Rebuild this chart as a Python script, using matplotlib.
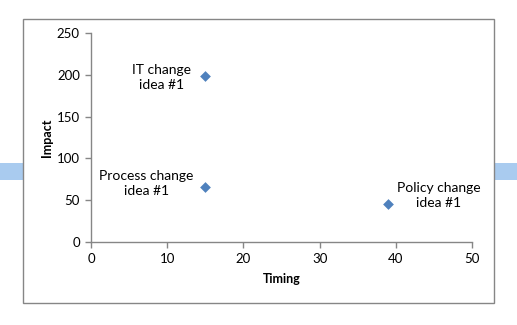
import matplotlib
matplotlib.use('Agg')
import matplotlib.pyplot as plt
import matplotlib.patches as mpatches

plt.rcParams['font.family'] = ['Lato', 'DejaVu Sans']

# data
ideas = ['IT change\nidea #1', 'Process change\nidea #1', 'Policy change\nidea #1']
timing = [15, 15, 39]
impact = [198, 66, 46]

# label offsets (points) relative to each marker
label_offsets = [(-31.5, -1), (-42.5, 2.5), (36.5, 6)]

W, H = 517, 325
fig = plt.figure(figsize=(W / 100, H / 100), dpi=100)

# light blue bands behind the chart frame
band = '#A9CBEF'
fig.patches.append(mpatches.Rectangle((0, 1 - 180 / H), 23 / W, 17 / H,
                                      transform=fig.transFigure, facecolor=band,
                                      edgecolor='none', zorder=0))
fig.patches.append(mpatches.Rectangle((495 / W, 1 - 180 / H), 22 / W, 17 / H,
                                      transform=fig.transFigure, facecolor=band,
                                      edgecolor='none', zorder=0))
# chart frame
fig.patches.append(mpatches.Rectangle((23 / W, 1 - 303 / H), 471 / W, 284 / H,
                                      transform=fig.transFigure, facecolor='white',
                                      edgecolor='#868686', linewidth=1.0, zorder=1))

ax = fig.add_axes([91 / W, 1 - 242 / H, 381 / W, 209 / H])
ax.set_zorder(2)
ax.patch.set_alpha(0)

ax.scatter(timing, impact, marker='D', s=30, color='#4F81BD', zorder=3, linewidths=0)

for name, x, y, off in zip(ideas, timing, impact, label_offsets):
    ax.annotate(name, (x, y), xytext=off, textcoords='offset points',
                ha='center', va='center', fontsize=10, linespacing=1.3)

ax.set_xlim(0, 50)
ax.set_ylim(0, 250)
ax.set_xticks(range(0, 51, 10))
ax.set_yticks(range(0, 251, 50))
for s in ['top', 'right']:
    ax.spines[s].set_visible(False)
for s in ['left', 'bottom']:
    ax.spines[s].set_color('#868686')
    ax.spines[s].set_linewidth(1)
ax.tick_params(direction='out', length=4, width=1, color='#868686',
               labelsize=9.5, pad=4)
ax.set_xlabel('Timing', fontsize=9, fontweight='bold', labelpad=6)
ax.set_ylabel('Impact', fontsize=9, fontweight='bold', labelpad=3)

fig.savefig('out.png', dpi=100)
